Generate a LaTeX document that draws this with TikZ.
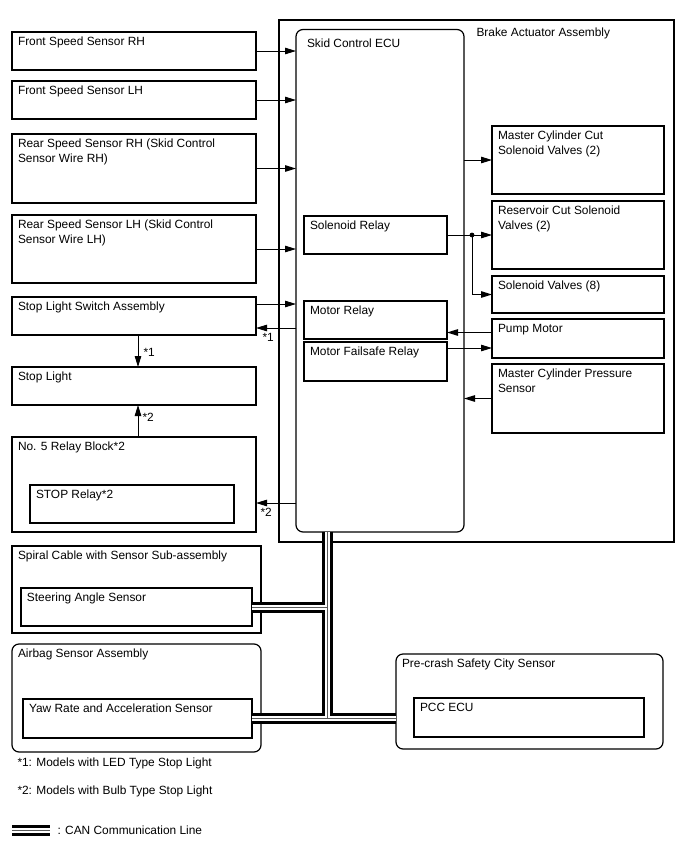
\documentclass[tikz,border=0pt]{standalone}
\usepackage{fontspec}
\setmainfont{Liberation Sans}
\usetikzlibrary{arrows.meta}

\begin{document}
\begin{tikzpicture}[
		x=1pt, y=-1pt,
		font=\fontsize{11.9}{14.4}\selectfont,
		box/.style={draw, line width=1.2pt, inner sep=0pt, outer sep=0pt, anchor=north west},
		rbox/.style={box, rounded corners=7pt},
		lbl/.style={anchor=north west, inner sep=0pt, xshift=5.5pt, yshift=-4.5pt, align=left},
		note/.style={inner sep=0pt, anchor=west},
		can/.style={line width=11pt, postaction={draw, white, line width=5pt}, postaction={draw, black!65, line width=1pt}},
		>={Triangle[length=11pt, width=6.5pt]}, line width=1pt
		]
		\useasboundingbox (0,0) rectangle (688,852);

		% brake actuator and skid control ECU
		\node[box, minimum width=395pt, minimum height=522pt, label={[lbl, xshift=191.5pt, yshift=-3pt]north west:Brake Actuator Assembly}] (bact) at (279,20) {};
		\node[rbox, fill=white, minimum width=168pt, minimum height=502.5pt, label={[lbl, xshift=5pt, yshift=-4.3pt]north west:Skid Control ECU}] (ecu) at (296,29.5) {};
		\node[box, minimum width=143pt, minimum height=38pt, label={[lbl]north west:Solenoid Relay}] (solr) at (304,216) {};
		\node[box, minimum width=143pt, minimum height=38pt, label={[lbl]north west:Motor Relay}] (motr) at (304,301) {};
		\node[box, minimum width=143pt, minimum height=39pt, label={[lbl]north west:Motor Failsafe Relay}] (mfs) at (304,342) {};

		\node[box, minimum width=172pt, minimum height=68pt, label={[lbl]north west:Master Cylinder Cut\\Solenoid Valves (2)}] (mcc) at (492,126) {};
		\node[box, minimum width=172pt, minimum height=68pt, label={[lbl]north west:Reservoir Cut Solenoid\\Valves (2)}] (rcv) at (492,201) {};
		\node[box, minimum width=172pt, minimum height=37pt, label={[lbl]north west:Solenoid Valves (8)}] (sv8) at (492,276) {};
		\node[box, minimum width=172pt, minimum height=39pt, label={[lbl]north west:Pump Motor}] (pump) at (492,319) {};
		\node[box, minimum width=172pt, minimum height=69pt, label={[lbl]north west:Master Cylinder Pressure\\Sensor}] (mcp) at (492,364) {};

		% left column
		\node[box, minimum width=244pt, minimum height=38pt, label={[lbl]north west:Front Speed Sensor RH}] (fsrh) at (12,32) {};
		\node[box, minimum width=244pt, minimum height=38pt, label={[lbl]north west:Front Speed Sensor LH}] (fslh) at (12,81) {};
		\node[box, minimum width=244pt, minimum height=69pt, label={[lbl]north west:Rear Speed Sensor RH (Skid Control\\Sensor Wire RH)}] (rsrh) at (12,134) {};
		\node[box, minimum width=244pt, minimum height=68pt, label={[lbl]north west:Rear Speed Sensor LH (Skid Control\\Sensor Wire LH)}] (rslh) at (12,215) {};
		\node[box, minimum width=244pt, minimum height=38pt, label={[lbl]north west:Stop Light Switch Assembly}] (sls) at (12,297) {};
		\node[box, minimum width=244pt, minimum height=38pt, label={[lbl]north west:Stop Light}] (stl) at (12,367) {};
		\node[box, minimum width=244pt, minimum height=95pt, label={[lbl]north west:No. 5 Relay Block*2}] (rb5) at (12,437) {};
		\node[box, minimum width=204pt, minimum height=38pt, label={[lbl]north west:STOP Relay*2}] (stop) at (30,485) {};

		% CAN side
		\node[box, minimum width=249pt, minimum height=87pt, label={[lbl]north west:Spiral Cable with Sensor Sub-assembly}] (spiral) at (12,546) {};
		\node[box, minimum width=231pt, minimum height=38pt, label={[lbl]north west:Steering Angle Sensor}] (sas) at (21,588) {};
		\node[rbox, minimum width=249pt, minimum height=108pt, label={[lbl]north west:Airbag Sensor Assembly}] (airbag) at (12,644) {};
		\node[box, minimum width=229pt, minimum height=39pt, label={[lbl]north west:Yaw Rate and Acceleration Sensor}] (yaw) at (23,699) {};
		\node[rbox, minimum width=267pt, minimum height=95pt, label={[lbl]north west:Pre-crash Safety City Sensor}] (pcs) at (396,654) {};
		\node[box, minimum width=230pt, minimum height=39pt, label={[lbl]north west:PCC ECU}] (pcc) at (414,698) {};

		% inputs to ECU
		\draw[->] (fsrh.east) -- (fsrh.east -| ecu.west);
		\draw[->] (fslh.east) -- (fslh.east -| ecu.west);
		\draw[->] (rsrh.east) -- (rsrh.east -| ecu.west);
		\draw[->] (rslh.east) -- (rslh.east -| ecu.west);
		\coordinate (slsin) at ([yshift=12pt]sls.east);
		\coordinate (slsout) at ([yshift=-12pt]sls.east);
		\coordinate (rb5in) at ([yshift=-18.5pt]rb5.east);
		\draw[->] (slsin) -- (slsin -| ecu.west);
		\draw[->] (slsout -| ecu.west) -- (slsout) node[note, anchor=north west, xshift=6pt, yshift=-5pt] (n1a) {*1};
		\draw[->] (rb5in -| ecu.west) -- (rb5in) node[note, anchor=north west, xshift=4pt, yshift=-5pt] (n2a) {*2};

		% stop light
		\coordinate (sldn) at ([xshift=4pt]sls.south);
		\draw[->] (sldn) -- (sldn |- stl.north) node[note, midway, anchor=west, xshift=5pt, yshift=-1pt] (n1b) {*1};
		\draw[->] (sldn |- rb5.north) -- (sldn |- stl.south) node[note, pos=0.6, anchor=west, xshift=4pt] (n2b) {*2};

		% actuator side
		\coordinate (split) at ([xshift=25pt]solr.east);
		\draw[->] (mcc.west -| ecu.east) -- (mcc.west);
		\draw (solr.east) -- (split);
		\draw[->] (split) -- (rcv.west);
		\draw[->] (split) |- (sv8.west);
		\fill (split) circle (2.4pt);
		\coordinate (pmout) at ([yshift=6pt]pump.west);
		\coordinate (pmin) at ([yshift=-9.5pt]pump.west);
		\draw[->] (pmout) -- (pmout -| motr.east);
		\draw[->] (pmin -| mfs.east) -- (pmin);
		\draw[->] (mcp.west) -- (mcp.west -| ecu.east);

		% CAN communication line
		\coordinate (cantop) at ([xshift=-53pt]ecu.south);
		\draw[can] (cantop) -- (cantop |- yaw.east)
			(sas.east) -- (sas.east -| cantop)
			(yaw.east -| sas.east) -- (yaw.east -| pcs.west);

		% notes
		\node[note] (fn1) at (17,763) {*1: Models with LED Type Stop Light};
		\node[note] (fn2) at (17,791) {*2: Models with Bulb Type Stop Light};
		\coordinate (lga) at (12,830);
		\coordinate (lgb) at (50,830);
		\draw[can] (lga) -- (lgb);
		\node[note] (lgt) at (57,830) {: CAN Communication Line};
	\end{tikzpicture}
\end{document}
